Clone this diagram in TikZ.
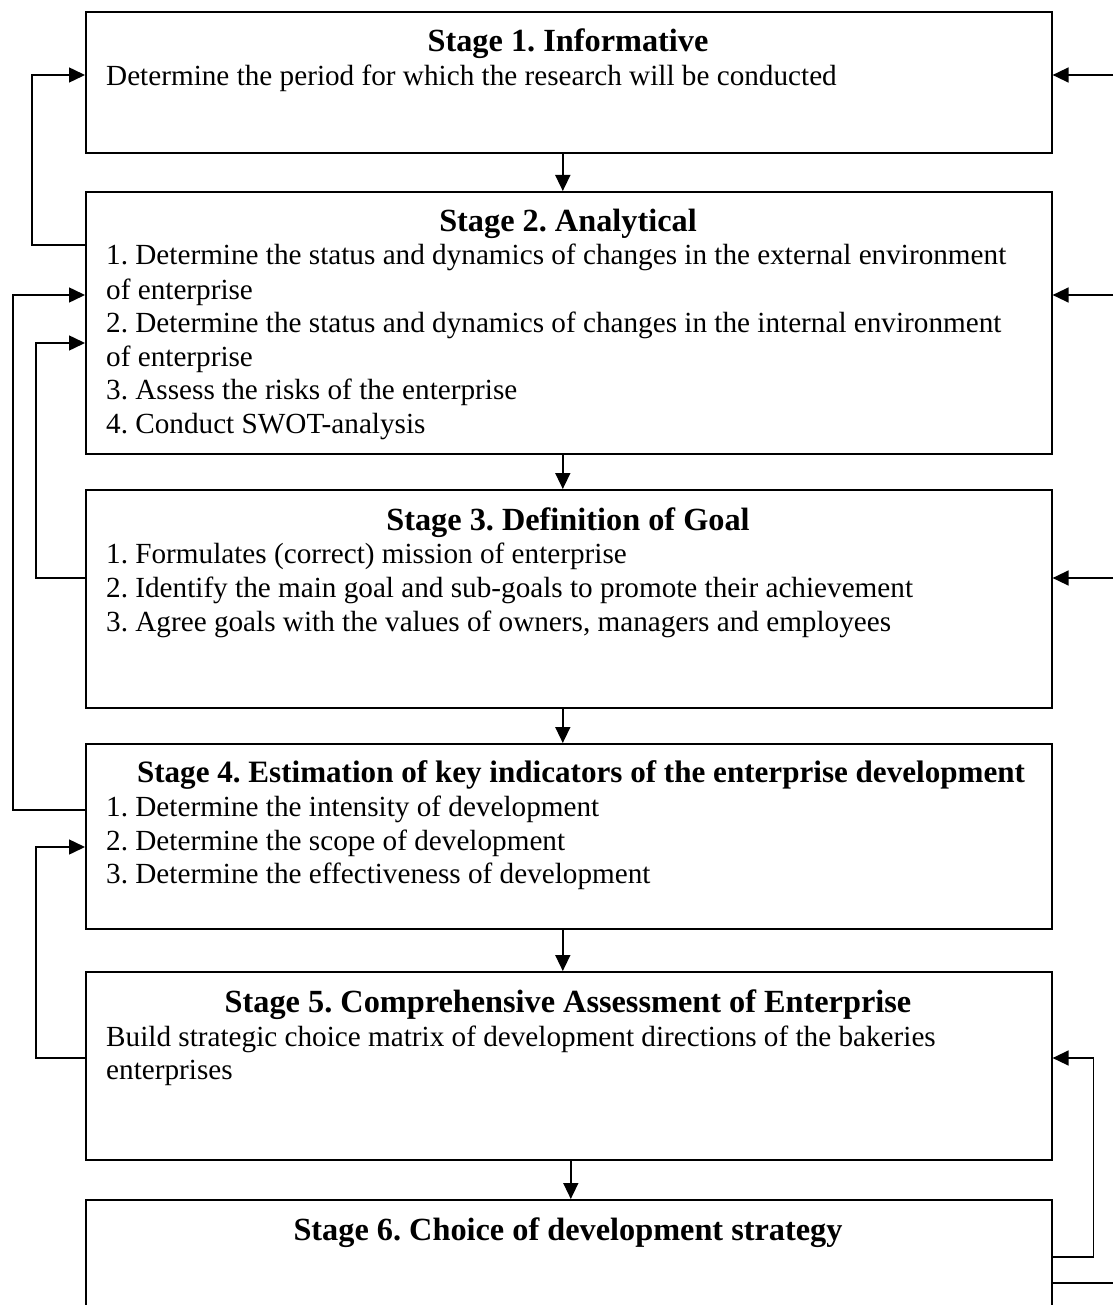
\documentclass[tikz,border=0pt]{standalone}
\usepackage{fontspec}
\setmainfont{Liberation Serif}
\usetikzlibrary{arrows.meta}
\frenchspacing
\begin{document}
\begin{tikzpicture}[x=1pt,y=-1pt,
  stagebox/.style={draw, line width=1.6pt, rectangle, anchor=north west, minimum width=966pt, inner sep=0pt},
  ttl/.style={anchor=base, inner sep=0pt, font=\fontsize{32.3}{36}\selectfont\bfseries},
  txt/.style={anchor=base west, inner sep=0pt, font=\fontsize{29.2}{33.6}\selectfont},
  conn/.style={line width=1.5pt},
  arr/.style={conn, -{Triangle[length=16pt,width=15pt]}}]
\useasboundingbox (0,0) rectangle (1113,1305);
\clip (0,0) rectangle (1113,1305);

% boxes
\node[stagebox, minimum height=141pt] (s1) at (85,11) {};
\node[stagebox, minimum height=262pt] (s2) at (85,191) {};
\node[stagebox, minimum height=218pt] (s3) at (85,489) {};
\node[stagebox, minimum height=185pt] (s4) at (85,743) {};
\node[stagebox, minimum height=188pt] (s5) at (85,971) {};
\node[stagebox, minimum height=200pt] (s6) at (85,1199) {};

% texts
\node[ttl] (t1) at (568,52) {Stage 1. Informative};
\node[txt] (s1a) at (106,86) {Determine the period for which the research will be conducted};

\node[ttl] (t2) at (568,232) {Stage 2. Analytical};
\node[txt] (s2a) at (106,265) {1. Determine the status and dynamics of changes in the external environment};
\node[txt] (s2b) at (106,299) {of enterprise};
\node[txt] (s2c) at (106,332) {2. Determine the status and dynamics of changes in the internal environment};
\node[txt] (s2d) at (106,366) {of enterprise};
\node[txt] (s2e) at (106,399) {3. Assess the risks of the enterprise};
\node[txt] (s2f) at (106,433) {4. Conduct SWOT-analysis};

\node[ttl] (t3) at (568,530) {Stage 3. Definition of Goal};
\node[txt] (s3a) at (106,563) {1. Formulates (correct) mission of enterprise};
\node[txt] (s3b) at (106,597) {2. Identify the main goal and sub-goals to promote their achievement};
\node[txt] (s3c) at (106,631) {3. Agree goals with the values of owners, managers and employees};

\node[ttl, font=\fontsize{31.1}{36}\selectfont\bfseries] (t4) at (581,782) {Stage 4. Estimation of key indicators of the enterprise development};
\node[txt] (s4a) at (106,816) {1. Determine the intensity of development};
\node[txt] (s4b) at (106,850) {2. Determine the scope of development};
\node[txt] (s4c) at (106,883) {3. Determine the effectiveness of development};

\node[ttl] (t5) at (568,1012) {Stage 5. Comprehensive Assessment of Enterprise};
\node[txt] (s5a) at (106,1046) {Build strategic choice matrix of development directions of the bakeries};
\node[txt] (s5b) at (106,1079) {enterprises};

\node[ttl] (t6) at (568,1240) {Stage 6. Choice of development strategy};

% free ends at the right edge
\coordinate (r1) at (1113,75);
\coordinate (r2) at (1113,295);
\coordinate (r3) at (1113,578);
\coordinate (r4) at (1113,1283);

% downward arrows
\draw[arr] ([xshift=-6pt]s1.south) -- ([xshift=-6pt]s2.north);
\draw[arr] ([xshift=-6pt]s2.south) -- ([xshift=-6pt]s3.north);
\draw[arr] ([xshift=-6pt]s3.south) -- ([xshift=-6pt]s4.north);
\draw[arr] ([xshift=-6pt]s4.south) -- ([xshift=-6pt]s5.north);
\draw[arr] ([xshift=2pt]s5.south) -- ([xshift=2pt]s6.north);

% left feedback loops
\draw[arr] ([yshift=-54pt]s2.north west) -- ++(-53,0) |- ([yshift=-64pt]s1.north west);
\draw[arr] ([yshift=-67pt]s4.north west) -- ++(-72,0) |- ([yshift=-104pt]s2.north west);
\draw[arr] ([yshift=-89pt]s3.north west) -- ++(-49,0) |- ([yshift=-152pt]s2.north west);
\draw[arr] ([yshift=-87pt]s5.north west) -- ++(-49,0) |- ([yshift=-104pt]s4.north west);

% right side
\draw[arr] (r1) -- (r1 -| s1.east);
\draw[arr] (r2) -- (r2 -| s2.east);
\draw[arr] (r3) -- (r3 -| s3.east);
\draw[arr] ([yshift=-58pt]s6.north east) -- ++(41,0) |- ([yshift=-87pt]s5.north east);
\draw[conn] ([yshift=-84pt]s6.north east) -- (r4);
\end{tikzpicture}
\end{document}
